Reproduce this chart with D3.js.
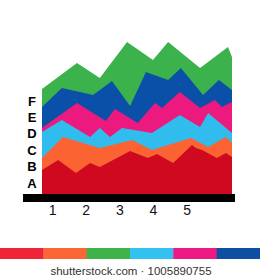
<!DOCTYPE html>
<html>
<head>
<meta charset="utf-8">
<script src="https://cdn.jsdelivr.net/npm/d3@7"></script>
<style>
  body { margin:0; background:#fff; }
  svg { display:block; }
</style>
</head>
<body>
<div id="chart"></div>
<script>
var svgW = 260,
    svgH = 280;

// y-axis category letters, bottom to top
var letters = ['A','B','C','D','E','F'];
// x tick labels
var xTicks = [1, 2, 3, 4, 5];

// cumulative top edge of every layer, as [x position, level]
var topA = [[0.70,15],[1.18,21.3],[1.71,13.1],[2.13,19.4],[2.42,16.9],[3.32,26.9],[3.85,22.5],[4.12,25],[4.60,19.4],[5.16,30.6],[5.28,28.8],[5.46,27.5],[5.90,22.5],[6.17,25.6],[6.35,23.1]];
var topB = [[0.70,22.5],[1.32,35.6],[2.42,28.8],[3.02,31.9],[3.38,33.8],[3.97,27.5],[5.13,35],[5.19,34.4],[5.64,29.4],[6.17,35.6],[6.35,31.9]];
var topC = [[0.70,38.8],[1.29,46.3],[2.13,35.6],[2.42,41.3],[2.72,35.6],[3.08,41.3],[3.97,38.1],[4.80,49.4],[5.40,41.9],[5.64,50.6],[6.35,38.1]];
var topD = [[0.70,41.3],[1.74,56.9],[2.60,45.6],[2.87,53.1],[3.55,44.4],[4.06,56.9],[4.27,53.8],[4.80,63.8],[5.40,53.8],[5.84,58.8],[6.05,54.4],[6.35,57.5]];
var topE = [[0.70,54.4],[1.29,66.3],[2.22,61.9],[2.78,70.6],[3.32,55],[3.79,76.3],[4.45,71.3],[4.83,78.8],[5.49,61.9],[5.96,71.3],[6.35,65]];
var topF = [[0.70,65.6],[1.74,81.9],[2.42,72.5],[3.23,95],[4.00,83.8],[4.45,95],[5.40,78.8],[6.23,91.9],[6.35,85.6]];

var layers = [topF, topE, topD, topC, topB, topA];   // drawn back to front
var layerColors = ['#3bb24b', '#0b50a8', '#ec1a7e', '#30bdee', '#fb6432', '#cf0a20'];
var stripColors = ['#ee2538', '#fb6636', '#3db34a', '#33c1f0', '#ee1a84', '#0e4fa3'];

var svg = d3.select('#chart').append('svg')
  .attr('width', svgW)
  .attr('height', svgH);

var x = d3.scaleLinear().domain([0.7, 6.35]).range([42, 232]);
var y = d3.scaleLinear().domain([0, 100]).range([194, 34]);

var area = d3.area()
  .x(function(d){ return x(d[0]); })
  .y0(y(0))
  .y1(function(d){ return y(d[1]); });

svg.append('g')
  .selectAll('path')
  .data(layers)
  .enter()
  .append('path')
    .attr('d', area)
    .attr('fill', function(d, i){ return layerColors[i]; });

// black base bar
svg.append('rect')
  .attr('x', 23).attr('y', 194)
  .attr('width', 212).attr('height', 8)
  .attr('fill', '#000');

// x labels
var xAxis = svg.append('g')
  .attr('transform', 'translate(0,202)')
  .call(d3.axisBottom(x).tickValues(xTicks).tickFormat(d3.format('d')).tickSize(0).tickPadding(3));
xAxis.select('.domain').remove();
xAxis.selectAll('text')
  .attr('font-family', 'Liberation Sans, Arial, sans-serif')
  .attr('font-size', 14)
  .attr('fill', '#111');

// letters up the left side
var yl = d3.scalePoint().domain(letters).range([183, 101]);
svg.append('g')
  .selectAll('text')
  .data(letters)
  .enter()
  .append('text')
    .attr('x', 32)
    .attr('y', function(d){ return yl(d); })
    .attr('dy', '0.36em')
    .attr('text-anchor', 'middle')
    .attr('font-family', 'Liberation Sans, Arial, sans-serif')
    .attr('font-weight', 'bold')
    .attr('font-size', 13)
    .attr('fill', '#000')
    .text(function(d){ return d; });

// colour strip at the bottom
var sx = d3.scaleBand().domain(d3.range(stripColors.length)).range([0, svgW]);
svg.append('g')
  .selectAll('rect')
  .data(stripColors)
  .enter()
  .append('rect')
    .attr('x', function(d, i){ return sx(i); })
    .attr('y', 248)
    .attr('width', sx.bandwidth() + 0.5)
    .attr('height', 11)
    .attr('fill', function(d){ return d; });

svg.append('text')
  .attr('x', 131).attr('y', 275)
  .attr('text-anchor', 'middle')
  .attr('font-family', 'Liberation Sans, Arial, sans-serif')
  .attr('font-size', 11.5)
  .attr('fill', '#333')
  .text('shutterstock.com \u00b7 1005890755');
</script>
</body>
</html>
